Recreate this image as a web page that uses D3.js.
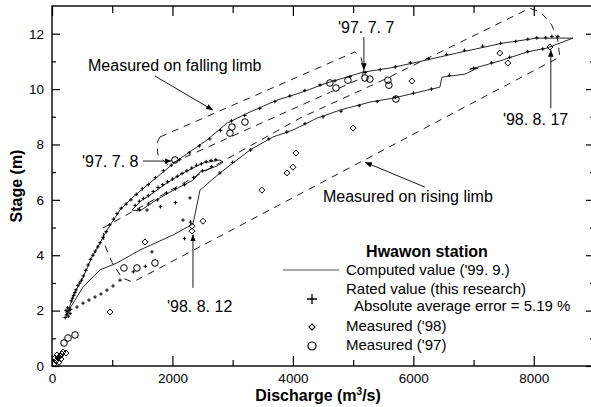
<!DOCTYPE html>
<html>
<head>
<meta charset="utf-8">
<script src="https://cdn.jsdelivr.net/npm/d3@7"></script>
<style>
  body { margin: 0; background: #fff; }
  svg { display: block; font-family: "Liberation Sans", Arial, Helvetica, sans-serif; }
</style>
</head>
<body>
<svg id="chart" width="591" height="407"></svg>
<script>
// axis ranges and ticks
const xMax = 9000, yMax = 13;
const xMajor = [0, 2000, 4000, 6000, 8000];
const xMinor = [1000, 3000, 5000, 7000];
const yMajor = [0, 2, 4, 6, 8, 10, 12];
const yMinor = [1, 3, 5, 7, 9, 11];

// computed value ('99. 9.)  [discharge m3/s, stage m]
const computedFalling = [
  [249, 1.84], [300, 2.2], [400, 2.75], [515, 3.2], [664, 3.94], [797, 4.44], [913, 4.91],
  [1129, 5.63], [1345, 6.10], [1627, 6.61], [2042, 7.36], [2573, 8.16], [2905, 8.77],
  [3287, 9.17], [3735, 9.60], [4117, 9.86], [4565, 10.22], [5163, 10.61], [5611, 10.76],
  [6059, 10.97], [6723, 11.30], [7487, 11.66], [8051, 11.84], [8649, 11.84]
];
const computedRising = [
  [249, 1.95], [332, 2.20], [515, 2.85], [797, 3.47], [1079, 3.72], [1461, 4.19],
  [2009, 4.73], [2341, 5.13], [2407, 5.81], [2457, 6.35], [2789, 6.97], [3287, 7.80],
  [3669, 8.27], [4001, 8.52], [4399, 8.95], [4781, 9.24], [5279, 9.53], [5661, 9.67],
  [6441, 10.07], [6474, 10.43], [6856, 10.54], [7072, 10.76], [6939, 10.72], [7138, 10.83],
  [7487, 11.05], [7885, 11.34], [8217, 11.48], [8649, 11.84]
];
const computedLoop97 = [
  [1328, 5.63], [1494, 5.99], [1627, 6.17], [1909, 6.61], [2175, 6.97], [2507, 7.33],
  [2789, 7.44], [2839, 7.36], [2739, 7.22], [2457, 7.00], [2341, 6.71], [1959, 6.28],
  [1677, 5.92], [1461, 5.60], [1328, 5.63]
];

// rated value (this research)
const ratedFalling = [
  [220, 1.75], [240, 1.85], [255, 1.95], [235, 2.0], [270, 1.8], [285, 2.0], [260, 2.1],
  [300, 1.9], [310, 2.05], [320, 2.35], [340, 2.45], [360, 2.55], [380, 2.65], [400, 2.75],
  [430, 2.9], [460, 3.0], [490, 3.1], [520, 3.25], [560, 3.45], [600, 3.65], [640, 3.85],
  [680, 4.0], [720, 4.15], [760, 4.3], [800, 4.45], [850, 4.65], [900, 4.85], [960, 5.1],
  [1020, 5.3], [1080, 5.5], [1150, 5.7], [1230, 5.85], [1310, 6.0], [1400, 6.2], [1500, 6.4],
  [1600, 6.55], [1720, 6.8], [1850, 7.05], [1980, 7.25], [2120, 7.45], [2280, 7.7],
  [2450, 7.95], [2620, 8.2], [2800, 8.5], [2980, 8.85], [3200, 9.05], [3450, 9.3],
  [3700, 9.55], [3950, 9.75], [4200, 9.95], [4450, 10.15], [4700, 10.3], [4950, 10.45],
  [5200, 10.6], [5450, 10.7], [5700, 10.8], [5950, 10.95], [6250, 11.1], [6550, 11.25],
  [6850, 11.4], [7150, 11.55], [7450, 11.65], [7700, 11.72], [7900, 11.8], [8050, 11.85],
  [8200, 11.85], [8300, 11.9], [8400, 11.9]
];
const ratedRising = [
  [415, 2.13], [515, 2.27], [614, 2.38], [714, 2.49], [813, 2.6], [913, 2.74], [1013, 2.89],
  [1129, 3.1], [1350, 3.4], [1550, 3.6], [1660, 4.12], [2200, 4.6], [2175, 5.27],
  [2300, 5.2], [2291, 6.07], [2789, 6.97], [3000, 7.35], [3300, 7.8], [3600, 8.2],
  [3900, 8.45], [4200, 8.75], [4500, 9.0], [4800, 9.2], [5100, 9.4], [5400, 9.55],
  [5700, 9.7], [6000, 9.85], [6300, 10.0], [6600, 10.5], [7000, 10.75], [7300, 10.95],
  [7600, 11.15], [7900, 11.35], [8150, 11.45]
];
const ratedLoop = [
  [1380, 5.8], [1450, 5.95], [1520, 6.05], [1600, 6.15], [1680, 6.3], [1760, 6.45],
  [1840, 6.55], [1920, 6.65], [2000, 6.75], [2080, 6.85], [2160, 6.95], [2240, 7.05],
  [2320, 7.15], [2400, 7.25], [2480, 7.3], [2560, 7.38], [2640, 7.42], [2720, 7.45],
  [2650, 7.2], [2500, 7.05], [2350, 6.8], [2200, 6.55], [2050, 6.4], [1900, 6.25],
  [1750, 6.0], [1600, 5.85], [1450, 5.65], [1577, 5.63], [1800, 5.75], [2050, 5.9]
];

// measured ('98) and ('97)
const measured98 = [
  [3486, 6.35], [3901, 6.97], [4001, 7.18], [4050, 7.69], [5000, 8.59], [5976, 10.29],
  [7437, 11.30], [7570, 10.94], [8267, 11.52], [2324, 5.05], [2324, 4.87], [963, 1.95],
  [1544, 4.48], [2507, 5.23], [33, 0.07], [66, 0.18], [100, 0.29], [133, 0.36], [166, 0.43],
  [83, 0.40], [50, 0.29], [183, 0.5], [232, 0.47], [116, 0.14], [149, 0.25]
];
const measured97 = [
  [2042, 7.44], [2955, 8.41], [2988, 8.63], [3204, 8.81], [4615, 10.22], [4715, 10.04],
  [4914, 10.32], [5196, 10.40], [5279, 10.36], [5578, 10.32], [5594, 10.14], [5711, 9.64],
  [1195, 3.54], [1411, 3.54], [1710, 3.72], [199, 0.83], [266, 1.01], [382, 1.12]
];

// dashed envelopes
const envelopeFalling = [
  [1793, 8.27], [5029, 11.34], [5129, 11.16], [5178, 10.69], [5145, 10.40],
  [1925, 7.26], [1759, 7.62], [1743, 8.05]
];
const envelopeRising = [
  [846, 4.98], [4116, 8.95], [5494, 10.32], [7934, 12.92], [8116, 12.78], [8299, 12.31],
  [8398, 11.77], [8432, 11.16], [1344, 3.03], [1162, 3.18], [996, 3.75], [863, 4.44]
];

// annotations
const noteTexts = ["Measured on falling limb", "'97. 7. 7", "'97. 7. 8", "'98. 8. 17",
                   "Measured on rising limb", "'98. 8. 12"];
const noteAt = [[598, 10.65], [4748, 12.02], [498, 7.18], [7487, 8.70], [4499, 5.92], [1909, 1.95]];
const noteArrows = [
  [[1710, 10.47], [2673, 9.24]], [[5179, 11.88], [5179, 10.68]], [[1511, 7.40], [1985, 7.40]],
  [[8283, 9.31], [8283, 11.42]], [[6192, 6.46], [5196, 7.36]], [[2341, 2.82], [2341, 4.75]]
];

const legendTitle = "Hwawon station";
const legendLabels = ["Computed value ('99. 9.)", "Rated value (this research)",
                      "Absolute average error = 5.19 %", "Measured ('98)", "Measured ('97)"];

const svg = d3.select('#chart');
const plotL = 52, plotR = 594, plotT = 6, plotB = 366;

const x = d3.scaleLinear().domain([0, xMax]).range([plotL, plotR]);
const y = d3.scaleLinear().domain([0, yMax]).range([plotB, plotT]);

const defs = svg.append('defs');
defs.append('marker')
    .attr('id', 'arrow')
    .attr('viewBox', '0 -4 10 8')
    .attr('refX', 10).attr('refY', 0)
    .attr('markerWidth', 7).attr('markerHeight', 6)
    .attr('markerUnits', 'userSpaceOnUse')
    .attr('orient', 'auto')
  .append('path')
    .attr('d', 'M0,-4L10,0L0,4Z')
    .attr('fill', '#000');

defs.append('clipPath').attr('id', 'plot')
  .append('rect')
    .attr('x', plotL).attr('y', plotT)
    .attr('width', plotR - plotL).attr('height', plotB - plotT);

// axes, ticks pointing inward
const axisStyle = g => {
    g.select('.domain').remove();
    g.selectAll('line').attr('stroke', '#000').attr('stroke-width', 1.2);
    g.selectAll('text')
        .attr('font-size', '13.5px')
        .attr('font-family', '"Liberation Sans", Arial, sans-serif')
        .attr('fill', '#000');
};

svg.append('g').attr('transform', `translate(0,${plotB})`)
    .call(d3.axisBottom(x).tickValues(xMajor).tickSize(-10).tickPadding(7).tickFormat(d3.format('d')))
    .call(axisStyle);
svg.append('g').attr('transform', `translate(0,${plotB})`)
    .call(d3.axisBottom(x).tickValues(xMinor).tickSize(-6).tickFormat(''))
    .call(axisStyle);
svg.append('g').attr('transform', `translate(0,${plotT})`)
    .call(d3.axisTop(x).tickValues(xMajor).tickSize(-10).tickFormat(''))
    .call(axisStyle);
svg.append('g').attr('transform', `translate(0,${plotT})`)
    .call(d3.axisTop(x).tickValues(xMinor).tickSize(-7).tickFormat(''))
    .call(axisStyle);
svg.append('g').attr('transform', `translate(${plotL},0)`)
    .call(d3.axisLeft(y).tickValues(yMajor).tickSize(-8).tickPadding(8))
    .call(axisStyle);
svg.append('g').attr('transform', `translate(${plotL},0)`)
    .call(d3.axisLeft(y).tickValues(yMinor).tickSize(-4).tickFormat(''))
    .call(axisStyle);
svg.append('g').attr('transform', `translate(${plotR},0)`)
    .call(d3.axisRight(y).tickValues(yMajor).tickSize(-8).tickFormat(''))
    .call(axisStyle);
svg.append('g').attr('transform', `translate(${plotR},0)`)
    .call(d3.axisRight(y).tickValues(yMinor).tickSize(-4).tickFormat(''))
    .call(axisStyle);

svg.append('rect')
    .attr('x', plotL).attr('y', plotT)
    .attr('width', plotR - plotL).attr('height', plotB - plotT)
    .attr('fill', 'none').attr('stroke', '#000').attr('stroke-width', 1.4);

// axis titles
svg.append('text')
    .attr('x', (plotL + plotR) / 2 - 5).attr('y', 401)
    .attr('text-anchor', 'middle')
    .attr('font-size', '16px').attr('font-weight', 'bold')
    .text('Discharge (m')
    .call(t => t.append('tspan').attr('font-size', '10px').attr('dy', -6).text('3'))
    .call(t => t.append('tspan').attr('dy', 6).text('/s)'));
svg.append('text')
    .attr('transform', `translate(22,${(plotT + plotB) / 2}) rotate(-90)`)
    .attr('text-anchor', 'middle')
    .attr('font-size', '16px').attr('font-weight', 'bold')
    .text('Stage (m)');

const plot = svg.append('g').attr('clip-path', 'url(#plot)');

// envelopes
const closed = d3.line().x(d => x(d[0])).y(d => y(d[1])).curve(d3.curveLinearClosed);
plot.selectAll('path.env')
    .data([envelopeFalling, envelopeRising])
    .join('path')
        .attr('class', 'env')
        .attr('d', closed)
        .attr('fill', 'none')
        .attr('stroke', '#000')
        .attr('stroke-width', 0.9)
        .attr('stroke-dasharray', '7,6');

// computed curves
const line = d3.line().x(d => x(d[0])).y(d => y(d[1]));
plot.selectAll('path.comp')
    .data([computedFalling, computedRising, computedLoop97])
    .join('path')
        .attr('class', 'comp')
        .attr('d', line)
        .attr('fill', 'none')
        .attr('stroke', '#111')
        .attr('stroke-width', 0.9);

// rated + markers
const plus = 'M-1.8,0H1.8M0,-1.8V1.8';
plot.selectAll('path.rated')
    .data(ratedFalling.concat(ratedRising, ratedLoop))
    .join('path')
        .attr('class', 'rated')
        .attr('transform', d => `translate(${x(d[0])},${y(d[1])})`)
        .attr('d', plus)
        .attr('stroke', '#000')
        .attr('stroke-width', 1);

// measured markers
const diamond = 'M0,-3L3,0L0,3L-3,0Z';
plot.selectAll('path.m98')
    .data(measured98)
    .join('path')
        .attr('class', 'm98')
        .attr('transform', d => `translate(${x(d[0])},${y(d[1])})`)
        .attr('d', diamond)
        .attr('fill', 'none')
        .attr('stroke', '#000')
        .attr('stroke-width', 1);
plot.selectAll('circle.m97')
    .data(measured97)
    .join('circle')
        .attr('class', 'm97')
        .attr('cx', d => x(d[0]))
        .attr('cy', d => y(d[1]))
        .attr('r', 3.3)
        .attr('fill', 'none')
        .attr('stroke', '#000')
        .attr('stroke-width', 1);

// annotations
svg.selectAll('text.note')
    .data(noteTexts)
    .join('text')
        .attr('class', 'note')
        .attr('x', (d, i) => x(noteAt[i][0]))
        .attr('y', (d, i) => y(noteAt[i][1]))
        .attr('font-size', '16px')
        .text(d => d);
svg.selectAll('line.arrow')
    .data(noteArrows)
    .join('line')
        .attr('class', 'arrow')
        .attr('x1', d => x(d[0][0])).attr('y1', d => y(d[0][1]))
        .attr('x2', d => x(d[1][0])).attr('y2', d => y(d[1][1]))
        .attr('stroke', '#000')
        .attr('stroke-width', 0.9)
        .attr('marker-end', 'url(#arrow)');

// legend
const legend = svg.append('g').attr('transform', 'translate(283,257)');
legend.append('text')
    .attr('x', 144).attr('text-anchor', 'middle')
    .attr('font-size', '16px').attr('font-weight', 'bold')
    .text(legendTitle);
legend.append('line')
    .attr('x1', 0).attr('x2', 56).attr('y1', 13).attr('y2', 13)
    .attr('stroke', '#555').attr('stroke-width', 1);
legend.append('path')
    .attr('transform', 'translate(29,42)')
    .attr('d', 'M-5,0H5M0,-5V5')
    .attr('stroke', '#000').attr('stroke-width', 1.3);
legend.append('path')
    .attr('transform', 'translate(29,70)')
    .attr('d', diamond)
    .attr('fill', 'none').attr('stroke', '#000').attr('stroke-width', 1.2);
legend.append('circle')
    .attr('cx', 29).attr('cy', 89).attr('r', 4)
    .attr('fill', 'none').attr('stroke', '#000').attr('stroke-width', 1.2);
legend.selectAll('text.item')
    .data(legendLabels)
    .join('text')
        .attr('class', 'item')
        .attr('x', (d, i) => i === 2 ? 71 : 63)
        .attr('y', (d, i) => [18, 37, 54, 74, 93][i])
        .attr('font-size', '15px')
        .text(d => d);
</script>
</body>
</html>
